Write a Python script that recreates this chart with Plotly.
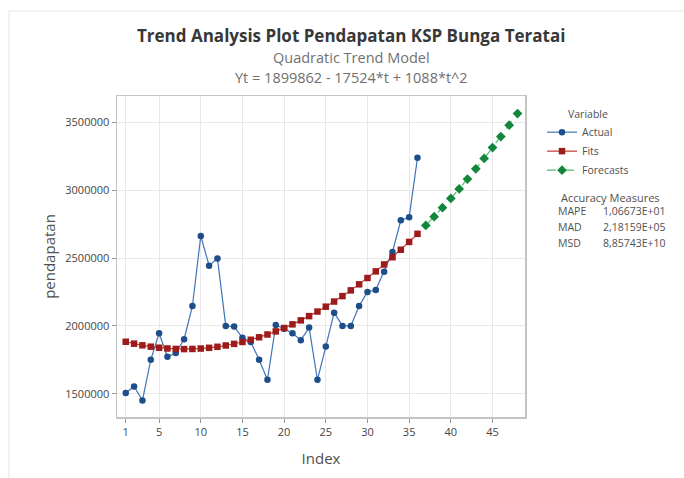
import plotly.graph_objects as go

# ---- data ----
t_actual = list(range(1, 37))
actual = [1505000, 1554000, 1450000, 1750000, 1946000, 1772000, 1800000, 1902000, 2147000, 2663000,
          2444000, 2498000, 2000000, 1995000, 1912000, 1882000, 1750000, 1603000, 2007000, 1980000,
          1946000, 1895000, 1988000, 1603000, 1848000, 2098000, 2000000, 2000000, 2147000, 2251000,
          2265000, 2400000, 2545000, 2779000, 2801000, 3240000]
t_fits = list(range(1, 37))
fits = [1883426, 1869166, 1857082, 1847174, 1839442, 1833886, 1830506, 1829302, 1830274, 1833422,
        1838746, 1846246, 1855922, 1867774, 1881802, 1898006, 1916386, 1936942, 1959674, 1984582,
        2011666, 2040926, 2072362, 2105974, 2141762, 2179726, 2219866, 2262182, 2306674, 2353342,
        2402186, 2453206, 2506402, 2561774, 2619322, 2679046]
t_fore = list(range(37, 49))
forecasts = [2740946, 2805022, 2871274, 2939702, 3010306, 3083086, 3158042, 3235174, 3314482,
             3395966, 3479626, 3565462]
x_ticks = [1, 5, 10, 15, 20, 25, 30, 35, 40, 45]
y_ticks = [1500000, 2000000, 2500000, 3000000, 3500000]
acc_labels = ["MAPE", "MAD", "MSD"]
acc_values = ["1,06673E+01", "2,18159E+05", "8,85743E+10"]

W, H = 684, 478
L, R, T, B = 117, 525, 96, 417
def px(x):
    return (x - L) / (R - L)
def py(y):
    return (B - y) / (B - T)

FONT = "Open Sans"
TXT = "#505050"
fig = go.Figure()
fig.add_trace(go.Scatter(x=t_actual, y=actual, name="Actual", mode="lines+markers",
                         line=dict(color="#3f74b8", width=1.2),
                         marker=dict(symbol="circle", size=6.5, color="#1d4e89")))
fig.add_trace(go.Scatter(x=t_fits, y=fits, name="Fits", mode="lines+markers",
                         line=dict(color="#c0392b", width=1.2),
                         marker=dict(symbol="square", size=6.5, color="#9e1b1b")))
fig.add_trace(go.Scatter(x=t_fore, y=forecasts, name="Forecasts", mode="lines+markers",
                         line=dict(color="#4cc26a", width=1.2, dash="dash"),
                         marker=dict(symbol="diamond", size=7.5, color="#12863a")))

ann = [
    dict(text="<b>Trend Analysis Plot Pendapatan KSP Bunga Teratai</b>", x=px(351), y=py(35),
         font=dict(size=17, color="#383838", family=FONT)),
    dict(text="Quadratic Trend Model", x=px(351), y=py(57),
         font=dict(size=14.5, color="#707070", family=FONT)),
    dict(text="Yt = 1899862 - 17524*t + 1088*t^2", x=px(351), y=py(77),
         font=dict(size=14.5, color="#707070", family=FONT)),
    dict(text="Accuracy Measures", x=px(610), y=py(197),
         font=dict(size=11, color=TXT, family=FONT)),
]
for i, (lab, val) in enumerate(zip(acc_labels, acc_values)):
    yy = 211 + i * 16
    ann.append(dict(text=lab, x=px(556), y=py(yy), xanchor="left",
                    font=dict(size=10.5, color=TXT, family=FONT)))
    ann.append(dict(text=val, x=px(601), y=py(yy), xanchor="left",
                    font=dict(size=10.5, color=TXT, family=FONT)))
for a in ann:
    a.setdefault("xanchor", "center")
    a.update(xref="paper", yref="paper", yanchor="middle", showarrow=False)

fig.update_layout(
    width=W, height=H,
    margin=dict(l=L, r=W - R, t=T, b=H - B),
    paper_bgcolor="white", plot_bgcolor="white",
    font=dict(family=FONT, color=TXT),
    annotations=ann,
    showlegend=True,
    hovermode=False,
    legend=dict(x=px(542), y=py(104), xanchor="left", yanchor="top",
                title=dict(text="Variable", side="top center", font=dict(size=10.5, color=TXT)),
                font=dict(size=10.5, color=TXT), tracegroupgap=0, itemwidth=30,
                bgcolor="rgba(0,0,0,0)"),
    shapes=[dict(type="rect", xref="paper", yref="paper", x0=px(9), x1=px(700),
                 y0=py(11), y1=py(500), line=dict(color="#e6e6e6", width=1), layer="below")],
    xaxis=dict(range=[-0.05, 48.9], tickvals=x_ticks, ticktext=[str(v) for v in x_ticks],
               showgrid=True, gridcolor="#e8e8e8", gridwidth=1, zeroline=False,
               showline=True, mirror=True, linecolor="#c4c4c4", linewidth=1.5,
               ticks="outside", ticklen=4, tickcolor="#999",
               tickfont=dict(size=11, color="#444"),
               title=dict(text="Index", font=dict(size=15, color=TXT), standoff=16)),
    yaxis=dict(range=[1328700, 3695000], tickvals=y_ticks, ticktext=[str(v) for v in y_ticks],
               showgrid=True, gridcolor="#e8e8e8", gridwidth=1, zeroline=False,
               showline=True, mirror=True, linecolor="#c4c4c4", linewidth=1.5,
               ticks="outside", ticklen=4, tickcolor="#999",
               tickfont=dict(size=11, color="#444"),
               title=dict(text="pendapatan", font=dict(size=15, color=TXT), standoff=6)),
)

fig.write_html("out.html", config={"staticPlot": True, "displayModeBar": False},
               post_script="document.body.style.margin='0';")
